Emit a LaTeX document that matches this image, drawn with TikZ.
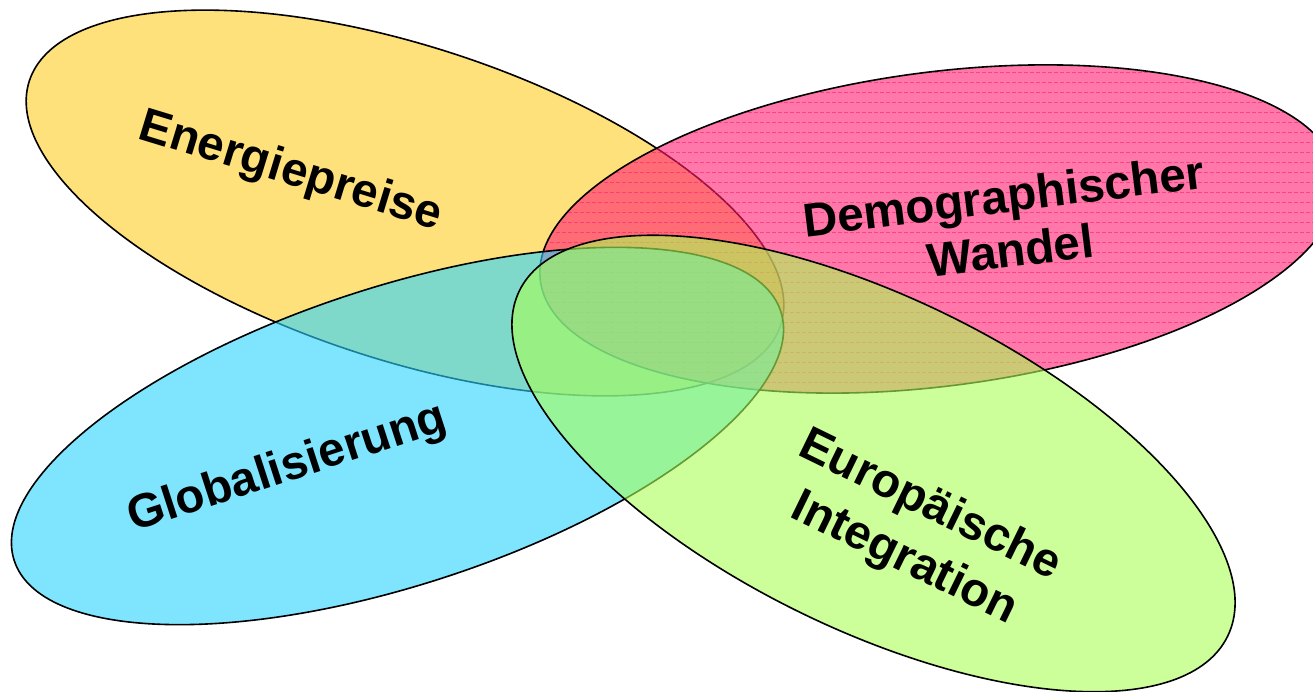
\documentclass[tikz,border=0pt]{standalone}
\usepackage{fontspec}
\setmainfont{Liberation Sans}
\definecolor{cYellow}{RGB}{255,205,38}
\definecolor{cPink}{RGB}{255,30,113}
\definecolor{cCyan}{RGB}{43,213,255}
\definecolor{cGreen}{RGB}{170,255,85}
\definecolor{cPinkLine}{RGB}{255,20,110}
\begin{document}
\begin{tikzpicture}[x=1pt,y=1pt,
  blobfill/.style={fill opacity=0.6},
  blobline/.style={draw=black, line width=1.6pt},
  lbl/.style={inner sep=0pt, text=black},
  lblfont/.style={font=\bfseries\fontsize{47.5}{#1}\selectfont}]
\useasboundingbox (0,0) rectangle (1313,692);
\clip (0,0) rectangle (1313,692);
\fill[white] (0,0) rectangle (1313,692);
% Energiepreise (yellow)
\path[shift={(405,489)}, rotate=-18, blobfill, fill=cYellow] (0,0) ellipse [x radius=395, y radius=157];
\path[shift={(405,489)}, rotate=-18, blobline] (0,0) ellipse [x radius=395, y radius=157];
% Demographischer Wandel (pink)
\path[shift={(939,463)}, rotate=7.4, blobfill, fill=cPink] (0,0) ellipse [x radius=402, y radius=157];
\begin{scope}
  \clip[shift={(939,463)}, rotate=7.4] (0,0) ellipse [x radius=402, y radius=157];
  \foreach \yy in {290,300,...,640} {
    \draw[cPinkLine, line width=0.8pt, opacity=0.55, dash pattern=on 4pt off 2pt] (520,\yy) -- (1313,\yy);
  }
\end{scope}
\path[shift={(939,463)}, rotate=7.4, blobline] (0,0) ellipse [x radius=402, y radius=157];
% Globalisierung (cyan)
\path[shift={(397.5,256)}, rotate=18, blobfill, fill=cCyan] (0,0) ellipse [x radius=403, y radius=149];
\path[shift={(397.5,256)}, rotate=18, blobline] (0,0) ellipse [x radius=403, y radius=149];
% Europaeische Integration (green)
\path[shift={(873.5,228.5)}, rotate=-26, blobfill, fill=cGreen] (0,0) ellipse [x radius=394, y radius=166];
\path[shift={(873.5,228.5)}, rotate=-26, blobline] (0,0) ellipse [x radius=394, y radius=166];
% labels
\node[lbl, lblfont=55, rotate=-17, anchor=base] (energie) at (287,508) {Energiepreise};
\node[lbl, lblfont=55, rotate=18, anchor=base] (global) at (291.2,211.4) {Globalisierung};
\node[lbl, lblfont=55, rotate=7, align=center] (demo) at (1006.8,469.1) {Demographischer\\Wandel};
\node[lbl, lblfont=59, rotate=-26, align=center] (europa) at (917,159.3) {Europäische\\Integration};
\end{tikzpicture}
\end{document}
